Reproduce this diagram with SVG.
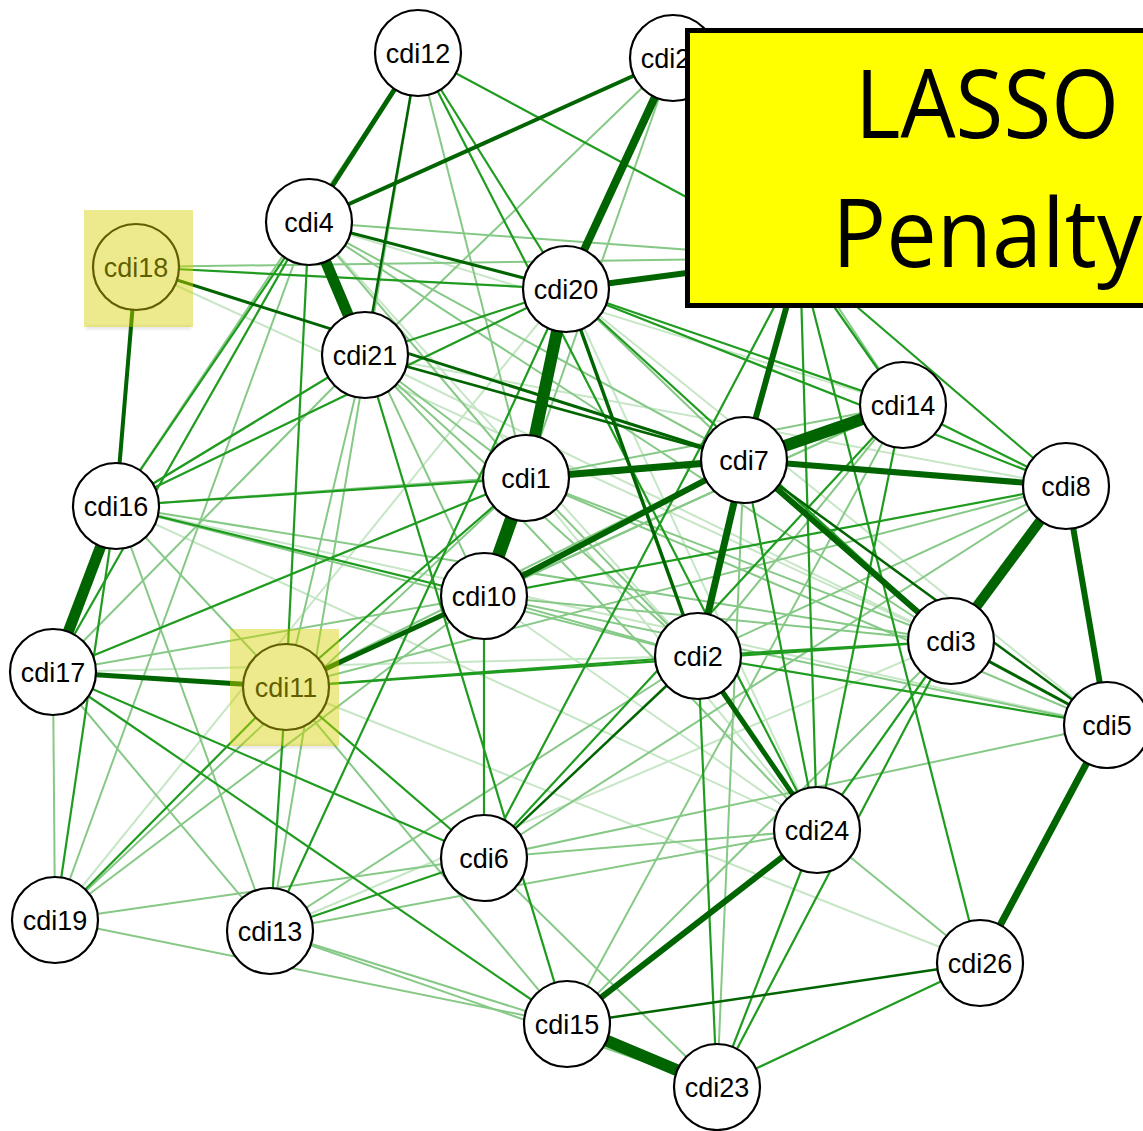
<svg xmlns="http://www.w3.org/2000/svg" width="1143" height="1131" viewBox="0 0 1143 1131">
  <defs>
    <style>
      line { stroke-linecap: butt; }
      .e4 { stroke: #c6e6c6; stroke-width: 2; }
      .e3 { stroke: #86c986; stroke-width: 2; }
      .e2 { stroke: #1f9c1f; stroke-width: 2.2; }
      .e1 { stroke: #006400; }
      .e0 { stroke: #006400; }
      .node circle { fill: #ffffff; stroke: #000000; stroke-width: 2.2; }
      .node text { font-family: "Liberation Sans", Arial, sans-serif; font-size: 27px; fill: #000000; text-anchor: middle; }
      .hl { fill: #d4d000; fill-opacity: 0.45; }
      .hl-shade { fill: #000000; fill-opacity: 0.12; filter: url(#soft); }
      .title { font-family: "Open Sans", "Lato", sans-serif; font-size: 95px; fill: #000000; }
    </style>
    <filter id="soft" x="-20%" y="-100%" width="140%" height="300%">
      <feGaussianBlur stdDeviation="1.5"/>
    </filter>
  </defs>

  <rect width="1143" height="1131" fill="#ffffff"/>

  <!-- connectors, weakest first -->
  <g id="edges">
    <!-- very weak -->
    <line class="e4" x1="55" y1="920" x2="566" y2="289"/>
    <line class="e4" x1="116" y1="506" x2="1107" y2="725"/>
    <line class="e4" x1="136" y1="267" x2="951" y2="641"/>
    <line class="e4" x1="365" y1="355" x2="951" y2="641"/>
    <line class="e4" x1="309" y1="222" x2="698" y2="656"/>
    <line class="e4" x1="270" y1="931" x2="951" y2="641"/>
    <line class="e4" x1="526" y1="478" x2="817" y2="830"/>
    <line class="e4" x1="365" y1="355" x2="1066" y2="486"/>
    <line class="e4" x1="566" y1="289" x2="817" y2="830"/>
    <line class="e4" x1="566" y1="289" x2="1107" y2="725"/>
    <line class="e4" x1="309" y1="222" x2="903" y2="405"/>
    <line class="e4" x1="116" y1="506" x2="817" y2="830"/>
    <line class="e4" x1="53" y1="672" x2="698" y2="656"/>
    <line class="e4" x1="484" y1="596" x2="817" y2="830"/>
    <line class="e4" x1="286" y1="687" x2="980" y2="963"/>

    <!-- weak -->
    <line class="e3" x1="53" y1="672" x2="55" y2="920"/>
    <line class="e3" x1="55" y1="920" x2="309" y2="222"/>
    <line class="e3" x1="55" y1="920" x2="484" y2="858"/>
    <line class="e3" x1="55" y1="920" x2="567" y2="1024"/>
    <line class="e3" x1="55" y1="920" x2="484" y2="596"/>
    <line class="e3" x1="55" y1="920" x2="526" y2="478"/>
    <line class="e3" x1="270" y1="931" x2="53" y2="672"/>
    <line class="e3" x1="270" y1="931" x2="116" y2="506"/>
    <line class="e3" x1="270" y1="931" x2="698" y2="656"/>
    <line class="e3" x1="270" y1="931" x2="817" y2="830"/>
    <line class="e3" x1="270" y1="931" x2="717" y2="1087"/>
    <line class="e3" x1="270" y1="931" x2="567" y2="1024"/>
    <line class="e3" x1="418" y1="53" x2="526" y2="478"/>
    <line class="e3" x1="418" y1="53" x2="270" y2="931"/>
    <line class="e3" x1="673" y1="58" x2="365" y2="355"/>
    <line class="e3" x1="673" y1="58" x2="526" y2="478"/>
    <line class="e3" x1="673" y1="58" x2="903" y2="405"/>
    <line class="e3" x1="309" y1="222" x2="800" y2="258"/>
    <line class="e3" x1="136" y1="267" x2="800" y2="258"/>
    <line class="e3" x1="309" y1="222" x2="744" y2="460"/>
    <line class="e3" x1="309" y1="222" x2="951" y2="641"/>
    <line class="e3" x1="309" y1="222" x2="526" y2="478"/>
    <line class="e3" x1="309" y1="222" x2="484" y2="596"/>
    <line class="e3" x1="116" y1="506" x2="418" y2="53"/>
    <line class="e3" x1="116" y1="506" x2="365" y2="355"/>
    <line class="e3" x1="116" y1="506" x2="744" y2="460"/>
    <line class="e3" x1="116" y1="506" x2="286" y2="687"/>
    <line class="e3" x1="116" y1="506" x2="698" y2="656"/>
    <line class="e3" x1="116" y1="506" x2="951" y2="641"/>
    <line class="e3" x1="286" y1="687" x2="365" y2="355"/>
    <line class="e3" x1="286" y1="687" x2="744" y2="460"/>
    <line class="e3" x1="286" y1="687" x2="567" y2="1024"/>
    <line class="e3" x1="484" y1="596" x2="698" y2="656"/>
    <line class="e3" x1="484" y1="596" x2="951" y2="641"/>
    <line class="e3" x1="484" y1="596" x2="1107" y2="725"/>
    <line class="e3" x1="484" y1="596" x2="53" y2="672"/>
    <line class="e3" x1="526" y1="478" x2="951" y2="641"/>
    <line class="e3" x1="526" y1="478" x2="1107" y2="725"/>
    <line class="e3" x1="526" y1="478" x2="698" y2="656"/>
    <line class="e3" x1="526" y1="478" x2="903" y2="405"/>
    <line class="e3" x1="526" y1="478" x2="365" y2="355"/>
    <line class="e3" x1="365" y1="355" x2="698" y2="656"/>
    <line class="e3" x1="365" y1="355" x2="817" y2="830"/>
    <line class="e3" x1="365" y1="355" x2="53" y2="672"/>
    <line class="e3" x1="566" y1="289" x2="744" y2="460"/>
    <line class="e3" x1="903" y1="405" x2="698" y2="656"/>
    <line class="e3" x1="903" y1="405" x2="484" y2="596"/>
    <line class="e3" x1="903" y1="405" x2="567" y2="1024"/>
    <line class="e3" x1="903" y1="405" x2="286" y2="687"/>
    <line class="e3" x1="484" y1="858" x2="1066" y2="486"/>
    <line class="e3" x1="484" y1="858" x2="1107" y2="725"/>
    <line class="e3" x1="484" y1="858" x2="717" y2="1087"/>
    <line class="e3" x1="744" y1="460" x2="717" y2="1087"/>
    <line class="e3" x1="1066" y1="486" x2="286" y2="687"/>
    <line class="e3" x1="1066" y1="486" x2="698" y2="656"/>
    <line class="e3" x1="567" y1="1024" x2="951" y2="641"/>
    <line class="e3" x1="817" y1="830" x2="980" y2="963"/>
    <line class="e3" x1="817" y1="830" x2="484" y2="858"/>

    <!-- moderate -->
    <line class="e2" x1="136" y1="267" x2="566" y2="289"/>
    <line class="e2" x1="418" y1="53" x2="566" y2="289"/>
    <line class="e2" x1="418" y1="53" x2="800" y2="258"/>
    <line class="e2" x1="418" y1="53" x2="817" y2="830"/>
    <line class="e2" x1="309" y1="222" x2="286" y2="687"/>
    <line class="e2" x1="309" y1="222" x2="116" y2="506"/>
    <line class="e2" x1="309" y1="222" x2="53" y2="672"/>
    <line class="e2" x1="365" y1="355" x2="566" y2="289"/>
    <line class="e2" x1="365" y1="355" x2="567" y2="1024"/>
    <line class="e2" x1="365" y1="355" x2="116" y2="506"/>
    <line class="e2" x1="566" y1="289" x2="270" y2="931"/>
    <line class="e2" x1="566" y1="289" x2="116" y2="506"/>
    <line class="e2" x1="566" y1="289" x2="903" y2="405"/>
    <line class="e2" x1="566" y1="289" x2="1066" y2="486"/>
    <line class="e2" x1="566" y1="289" x2="951" y2="641"/>
    <line class="e2" x1="116" y1="506" x2="526" y2="478"/>
    <line class="e2" x1="116" y1="506" x2="484" y2="596"/>
    <line class="e2" x1="116" y1="506" x2="55" y2="920"/>
    <line class="e2" x1="53" y1="672" x2="526" y2="478"/>
    <line class="e2" x1="53" y1="672" x2="484" y2="858"/>
    <line class="e2" x1="53" y1="672" x2="567" y2="1024"/>
    <line class="e2" x1="55" y1="920" x2="286" y2="687"/>
    <line class="e2" x1="270" y1="931" x2="286" y2="687"/>
    <line class="e2" x1="270" y1="931" x2="484" y2="858"/>
    <line class="e2" x1="286" y1="687" x2="484" y2="858"/>
    <line class="e2" x1="286" y1="687" x2="526" y2="478"/>
    <line class="e2" x1="286" y1="687" x2="951" y2="641"/>
    <line class="e2" x1="286" y1="687" x2="698" y2="656"/>
    <line class="e2" x1="484" y1="596" x2="484" y2="858"/>
    <line class="e2" x1="484" y1="596" x2="1066" y2="486"/>
    <line class="e2" x1="903" y1="405" x2="484" y2="858"/>
    <line class="e2" x1="903" y1="405" x2="800" y2="258"/>
    <line class="e2" x1="903" y1="405" x2="817" y2="830"/>
    <line class="e2" x1="903" y1="405" x2="1066" y2="486"/>
    <line class="e2" x1="800" y1="258" x2="817" y2="830"/>
    <line class="e2" x1="800" y1="258" x2="980" y2="963"/>
    <line class="e2" x1="800" y1="258" x2="1066" y2="486"/>
    <line class="e2" x1="800" y1="258" x2="484" y2="858"/>
    <line class="e2" x1="744" y1="460" x2="817" y2="830"/>
    <line class="e2" x1="817" y1="830" x2="951" y2="641"/>
    <line class="e2" x1="717" y1="1087" x2="951" y2="641"/>
    <line class="e2" x1="817" y1="830" x2="717" y2="1087"/>
    <line class="e2" x1="698" y1="656" x2="717" y2="1087"/>
    <line class="e2" x1="698" y1="656" x2="951" y2="641"/>
    <line class="e2" x1="698" y1="656" x2="1107" y2="725"/>
    <line class="e2" x1="717" y1="1087" x2="980" y2="963"/>

    <!-- strong, thin -->
    <line class="e1" stroke-width="3" x1="136" y1="267" x2="744" y2="460"/>
    <line class="e1" stroke-width="2.5" x1="365" y1="355" x2="744" y2="460"/>
    <line class="e1" stroke-width="3" x1="309" y1="222" x2="566" y2="289"/>
    <line class="e1" stroke-width="3.5" x1="566" y1="289" x2="698" y2="656"/>
    <line class="e1" stroke-width="3" x1="951" y1="641" x2="1107" y2="725"/>
    <line class="e1" stroke-width="2.5" x1="744" y1="460" x2="1107" y2="725"/>
    <line class="e1" stroke-width="2.5" x1="567" y1="1024" x2="980" y2="963"/>
    <line class="e1" stroke-width="2.5" x1="418" y1="53" x2="365" y2="355"/>
    <line class="e1" stroke-width="2.5" x1="698" y1="656" x2="484" y2="858"/>

    <!-- strong, thick -->
    <line class="e0" stroke-width="4" x1="136" y1="267" x2="116" y2="506"/>
    <line class="e0" stroke-width="4" x1="673" y1="58" x2="309" y2="222"/>
    <line class="e0" stroke-width="5" x1="418" y1="53" x2="309" y2="222"/>
    <line class="e0" stroke-width="5" x1="53" y1="672" x2="286" y2="687"/>
    <line class="e0" stroke-width="5" x1="286" y1="687" x2="484" y2="596"/>
    <line class="e0" stroke-width="5" x1="698" y1="656" x2="817" y2="830"/>
    <line class="e0" stroke-width="6" x1="567" y1="1024" x2="817" y2="830"/>
    <line class="e0" stroke-width="6" x1="744" y1="460" x2="1066" y2="486"/>
    <line class="e0" stroke-width="6" x1="1066" y1="486" x2="1107" y2="725"/>
    <line class="e0" stroke-width="7" x1="1107" y1="725" x2="980" y2="963"/>
    <line class="e0" stroke-width="6" x1="744" y1="460" x2="951" y2="641"/>
    <line class="e0" stroke-width="6" x1="484" y1="596" x2="744" y2="460"/>
    <line class="e0" stroke-width="7" x1="526" y1="478" x2="744" y2="460"/>
    <line class="e0" stroke-width="7" x1="744" y1="460" x2="698" y2="656"/>
    <line class="e0" stroke-width="6" x1="566" y1="289" x2="800" y2="258"/>
    <line class="e0" stroke-width="6" x1="744" y1="460" x2="800" y2="258"/>
    <line class="e0" stroke-width="8" x1="673" y1="58" x2="566" y2="289"/>
    <line class="e0" stroke-width="10" x1="1066" y1="486" x2="951" y2="641"/>
    <line class="e0" stroke-width="11" x1="116" y1="506" x2="53" y2="672"/>
    <line class="e0" stroke-width="11" x1="309" y1="222" x2="365" y2="355"/>
    <line class="e0" stroke-width="12" x1="566" y1="289" x2="526" y2="478"/>
    <line class="e0" stroke-width="13" x1="526" y1="478" x2="484" y2="596"/>
    <line class="e0" stroke-width="12" x1="744" y1="460" x2="903" y2="405"/>
    <line class="e0" stroke-width="12" x1="567" y1="1024" x2="717" y2="1087"/>
  </g>

  <!-- nodes -->
  <g id="cdi22" class="node"><circle cx="673" cy="58" r="43"/><text x="673" y="68">cdi22</text></g>
  <g id="cdi12" class="node"><circle cx="418" cy="53" r="43"/><text x="418" y="63">cdi12</text></g>
  <g id="cdi4" class="node"><circle cx="309" cy="222" r="43"/><text x="309" y="232">cdi4</text></g>
  <g id="cdi18" class="node"><circle cx="136" cy="267" r="43"/><text x="136" y="277">cdi18</text></g>
  <g id="cdi20" class="node"><circle cx="566" cy="289" r="43"/><text x="566" y="299">cdi20</text></g>
  <g id="cdi21" class="node"><circle cx="365" cy="355" r="43"/><text x="365" y="365">cdi21</text></g>
  <g id="cdi14" class="node"><circle cx="903" cy="405" r="43"/><text x="903" y="415">cdi14</text></g>
  <g id="cdi7" class="node"><circle cx="744" cy="460" r="43"/><text x="744" y="470">cdi7</text></g>
  <g id="cdi1" class="node"><circle cx="526" cy="478" r="43"/><text x="526" y="488">cdi1</text></g>
  <g id="cdi8" class="node"><circle cx="1066" cy="486" r="43"/><text x="1066" y="496">cdi8</text></g>
  <g id="cdi16" class="node"><circle cx="116" cy="506" r="43"/><text x="116" y="516">cdi16</text></g>
  <g id="cdi10" class="node"><circle cx="484" cy="596" r="43"/><text x="484" y="606">cdi10</text></g>
  <g id="cdi3" class="node"><circle cx="951" cy="641" r="43"/><text x="951" y="651">cdi3</text></g>
  <g id="cdi2" class="node"><circle cx="698" cy="656" r="43"/><text x="698" y="666">cdi2</text></g>
  <g id="cdi17" class="node"><circle cx="53" cy="672" r="43"/><text x="53" y="682">cdi17</text></g>
  <g id="cdi11" class="node"><circle cx="286" cy="687" r="43"/><text x="286" y="697">cdi11</text></g>
  <g id="cdi5" class="node"><circle cx="1107" cy="725" r="43"/><text x="1107" y="735">cdi5</text></g>
  <g id="cdi24" class="node"><circle cx="817" cy="830" r="43"/><text x="817" y="840">cdi24</text></g>
  <g id="cdi6" class="node"><circle cx="484" cy="858" r="43"/><text x="484" y="868">cdi6</text></g>
  <g id="cdi19" class="node"><circle cx="55" cy="920" r="43"/><text x="55" y="930">cdi19</text></g>
  <g id="cdi13" class="node"><circle cx="270" cy="931" r="43"/><text x="270" y="941">cdi13</text></g>
  <g id="cdi26" class="node"><circle cx="980" cy="963" r="43"/><text x="980" y="973">cdi26</text></g>
  <g id="cdi15" class="node"><circle cx="567" cy="1024" r="43"/><text x="567" y="1034">cdi15</text></g>
  <g id="cdi23" class="node"><circle cx="717" cy="1087" r="43"/><text x="717" y="1087" dy="10">cdi23</text></g>

  <!-- highlight squares over selected nodes, with a faint shade below -->
  <rect class="hl-shade" x="86" y="326" width="105" height="3"/>
  <rect class="hl-shade" x="232" y="745" width="105" height="3"/>
  <rect class="hl" x="84" y="210" width="109" height="117"/>
  <rect class="hl" x="230" y="629" width="109" height="117"/>

  <!-- title box -->
  <g id="title">
    <rect x="687.5" y="30.5" width="560" height="275" fill="#ffff00" stroke="#000000" stroke-width="5"/>
    <text class="title" x="855" y="138" textLength="264" lengthAdjust="spacingAndGlyphs">LASSO</text>
    <text class="title" x="832" y="267" textLength="310" lengthAdjust="spacingAndGlyphs">Penalty</text>
  </g>
</svg>
